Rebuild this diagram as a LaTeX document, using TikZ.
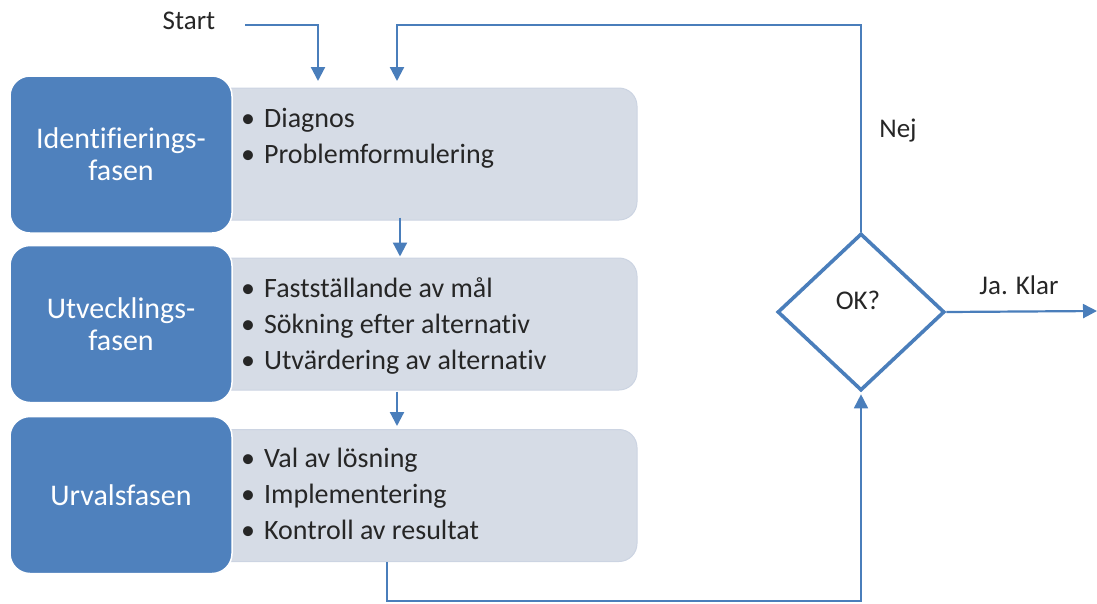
\documentclass[tikz,border=0pt]{standalone}
\usepackage{fontspec}
\setmainfont{Carlito}[Ligatures={NoCommon}]
\usetikzlibrary{shapes.geometric,arrows.meta,calc}
\definecolor{phase}{RGB}{79,129,189}
\definecolor{itemfill}{RGB}{214,220,230}
\definecolor{itemedge}{RGB}{204,212,226}
\definecolor{arrowc}{RGB}{74,126,187}
\definecolor{txt}{RGB}{38,38,38}
\begin{document}
\begin{tikzpicture}[x=1pt,y=-1pt,
  phasebox/.style={draw=white, line width=1.5pt, fill=phase, rounded corners=20pt,
    text=white, font=\fontsize{30}{32}\selectfont, align=center,
    minimum width=222pt, minimum height=157pt, inner sep=0pt},
  itembox/.style={draw=itemedge, line width=1pt, fill=itemfill, rounded corners=18pt,
    minimum width=437pt, minimum height=132pt, inner sep=0pt},
  item/.style={font=\fontsize{28}{36}\selectfont, anchor=base west, text=txt, inner sep=0pt},
  conn/.style={draw=arrowc, line width=2.2pt, -{Triangle[width=14pt,length=14pt]}},
  lbl/.style={font=\fontsize{27}{30}\selectfont, text=txt, inner sep=0pt},
  decision/.style={diamond, draw=arrowc, line width=3.6pt, fill=white,
    minimum width=167pt, minimum height=157pt, inner sep=0pt}]
\useasboundingbox (0,0) rectangle (1097,603);

% item boxes (behind phase boxes)
\node[itembox] (lb1) at (418.5,154) {};
\node[itembox] (lb2) at (418.5,324) {};
\node[itembox] (lb3) at (418.5,495.5) {};

% phase boxes
\node[phasebox] (pb1) at (121,154.5) {Identifierings-\\fasen};
\node[phasebox] (pb2) at (121,324) {Utvecklings-\\fasen};
\node[phasebox] (pb3) at (121,495) {Urvalsfasen};

% items
\node[item] (i11) at (241,127) {•\hspace{9pt}Diagnos};
\node[item] (i12) at (241,163) {•\hspace{9pt}Problemformulering};
\node[item] (i21) at (241,297) {•\hspace{9pt}Fastställande av mål};
\node[item] (i22) at (241,333) {•\hspace{9pt}Sökning efter alternativ};
\node[item] (i23) at (241,369) {•\hspace{9pt}Utvärdering av alternativ};
\node[item] (i31) at (241,467) {•\hspace{9pt}Val av lösning};
\node[item] (i32) at (241,503) {•\hspace{9pt}Implementering};
\node[item] (i33) at (241,539) {•\hspace{9pt}Kontroll av resultat};

% decision
\node[decision] (dia) at (861,312) {};
\node[lbl] (ok) at (858,300) {OK?};

% labels
\node[lbl] (start) at (189,21) {Start};
\node[lbl] (nej) at (898,131) {Nej};
\node[lbl] (ja) at (1019,285) {Ja. Klar};

% free ends
\coordinate (inA) at (318,81);
\coordinate (inB) at (397,81);
\coordinate (exit) at (1097,311);

% connectors
\draw[conn] (start.east |- 0,25) ++(30,0) -| (inA);
\draw[conn] (dia.north) -- (dia.north |- 0,25) -| (inB);
\draw[conn] (lb1.south -| 400,0) ++(0,-3) -- ($(lb2.north -| 400,0)+(0,-1)$);
\draw[conn] (lb2.south -| 397,0) ++(0,1) -- ($(lb3.north -| 397,0)+(0,-3)$);
\draw[conn, line width=1.7pt] (lb3.south -| 387,0) -- (387,601) -| ($(dia.south)+(0,2)$);
\draw[conn] (dia.east) -- (exit);
\end{tikzpicture}
\end{document}
